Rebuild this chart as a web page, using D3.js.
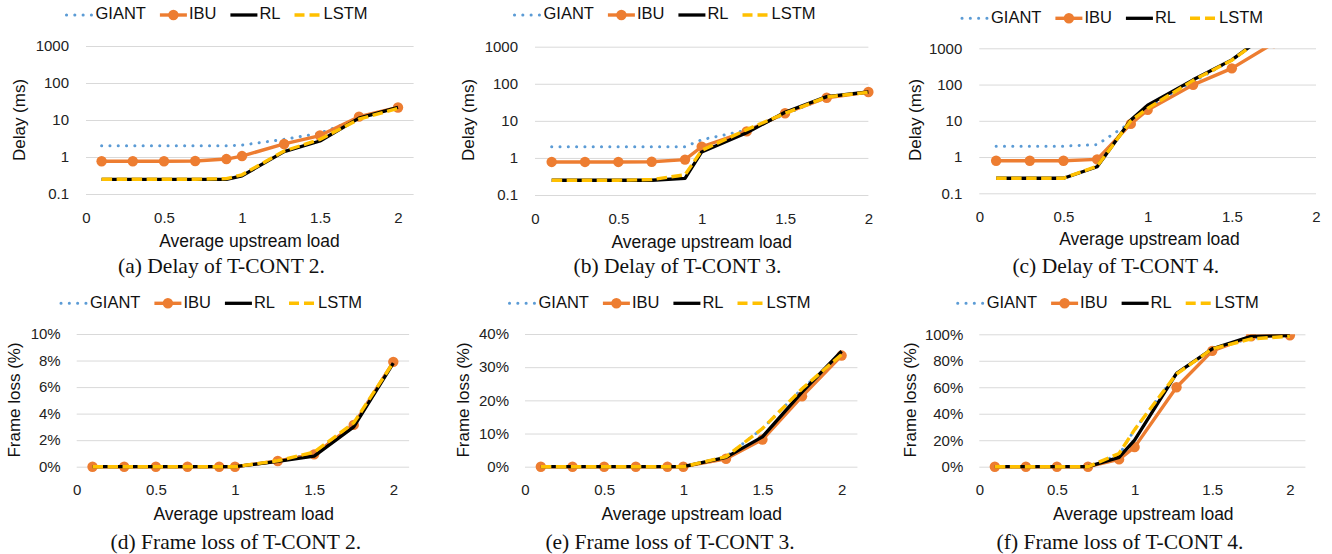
<!DOCTYPE html>
<html>
<head>
<meta charset="utf-8">
<script src="https://cdn.jsdelivr.net/npm/d3@7"></script>
<style>
  body { margin: 0; background: #fff; }
  svg { display: block; }
  .tick text { font-family: "Liberation Sans", Arial, sans-serif; font-size: 15px; fill: #222; }
</style>
</head>
<body>
<svg id="chart" width="1332" height="554"></svg>
<script>
// load points on the x axis (same for every panel)
var loads = [0.1, 0.3, 0.5, 0.7, 0.9, 1.0, 1.27, 1.5, 1.75, 2.0];
var seriesNames = ["GIANT", "IBU", "RL", "LSTM"];
var xTicks = [0, 0.5, 1, 1.5, 2];
var delayTicks = [0.1, 1, 10, 100, 1000];
var loss2Ticks = [0, 2, 4, 6, 8, 10];
var loss3Ticks = [0, 10, 20, 30, 40];
var loss4Ticks = [0, 20, 40, 60, 80, 100];

// delay (ms), T-CONT 2
var delay2Giant = [2, 2, 2, 2, 2, 2.1, 3.0, 4.4, 11, 22];
var delay2Ibu   = [0.77, 0.77, 0.77, 0.78, 0.88, 1.06, 2.25, 3.8, 12.3, 21.8];
var delay2Rl    = [0.25, 0.25, 0.25, 0.25, 0.25, 0.31, 1.4, 2.7, 11.2, 22];
var delay2Lstm  = [0.25, 0.25, 0.25, 0.25, 0.26, 0.33, 1.45, 3.0, 10.5, 20.5];

// delay (ms), T-CONT 3
var delay3Giant = [2, 2, 2, 2, 2, 3.1, 5.6, 15, 43, 60];
var delay3Ibu   = [0.78, 0.78, 0.78, 0.79, 0.9, 2.0, 5.2, 16, 42, 60];
var delay3Rl    = [0.25, 0.25, 0.25, 0.25, 0.28, 1.45, 4.8, 17, 45, 60];
var delay3Lstm  = [0.25, 0.25, 0.25, 0.26, 0.35, 1.6, 5.8, 16, 44, 59];

// delay (ms), T-CONT 4
var delay4Giant = [2, 2, 2, 2.2, 9, 24, 120, 470, 3400, 8000];
var delay4Ibu   = [0.79, 0.79, 0.79, 0.86, 8.2, 20, 98, 280, 1400, 4000];
var delay4Rl    = [0.26, 0.26, 0.26, 0.54, 10.5, 27, 135, 480, 3400, 8000];
var delay4Lstm  = [0.26, 0.26, 0.26, 0.56, 10, 22, 130, 470, 3300, 8000];

// frame loss (%), T-CONT 2
var loss2Giant = [0, 0, 0, 0, 0, 0, 0.42, 1.0, 3.2, 7.9];
var loss2Ibu   = [0, 0, 0, 0, 0, 0, 0.43, 0.93, 3.15, 7.9];
var loss2Rl    = [0, 0, 0, 0, 0, 0, 0.4, 0.8, 3.0, 7.8];
var loss2Lstm  = [0, 0, 0, 0, 0, 0, 0.45, 1.1, 3.3, 7.85];

// frame loss (%), T-CONT 3
var loss3Giant = [0, 0, 0, 0, 0, 0, 3.0, 11.5, 23.5, 33.8];
var loss3Ibu   = [0, 0, 0, 0, 0, 0, 2.4, 8.2, 21.2, 33.5];
var loss3Rl    = [0, 0, 0, 0, 0, 0, 2.8, 9.0, 22.5, 34.8];
var loss3Lstm  = [0, 0, 0, 0, 0, 0, 3.0, 11.5, 23.5, 33.8];

// frame loss (%), T-CONT 4
var loss4Giant = [0, 0, 0, 0, 9, 28, 70, 89, 97, 99];
var loss4Ibu   = [0, 0, 0, 0, 5.5, 14.8, 60, 87.5, 98.5, 99.2];
var loss4Rl    = [0, 0, 0, 0, 7, 20, 70.5, 89, 98.5, 99];
var loss4Lstm  = [0, 0, 0, 0, 10, 28, 70, 89, 96.5, 98.5];

var colors = { GIANT: "#5B9BD5", IBU: "#ED7D31", RL: "#000000", LSTM: "#FFC000" };

// panel placement
var panels = [
  { id: "a", caption: "(a) Delay of T-CONT 2.", ytitle: "Delay (ms)", log: true, ticks: delayTicks,
    data: [delay2Giant, delay2Ibu, delay2Rl, delay2Lstm],
    x0: 86, unit: 156, xMax: 2.1, yTop: 46, yBot: 194, legX: 216.5, legY: 15,
    xtX: 249.5, xtY: 242, ytX: 21, ytY: 120, capX: 221.5, capY: 273 },
  { id: "b", caption: "(b) Delay of T-CONT 3.", ytitle: "Delay (ms)", log: true, ticks: delayTicks,
    data: [delay3Giant, delay3Ibu, delay3Rl, delay3Lstm],
    x0: 535, unit: 166.7, xMax: 2, yTop: 46.7, yBot: 195, legX: 664.5, legY: 15,
    xtX: 701.7, xtY: 243, ytX: 469.3, ytY: 120, capX: 677.5, capY: 273 },
  { id: "c", caption: "(c) Delay of T-CONT 4.", ytitle: "Delay (ms)", log: true, ticks: delayTicks,
    data: [delay4Giant, delay4Ibu, delay4Rl, delay4Lstm],
    x0: 979.3, unit: 168.35, xMax: 2, yTop: 48.3, yBot: 193.3, legX: 1112, legY: 18.3,
    xtX: 1149.5, xtY: 240, ytX: 916.7, ytY: 120, capX: 1115.8, capY: 273 },
  { id: "d", caption: "(d) Frame loss of T-CONT 2.", ytitle: "Frame loss (%)", log: false, ticks: loss2Ticks,
    data: [loss2Giant, loss2Ibu, loss2Rl, loss2Lstm],
    x0: 76.7, unit: 158.3, xMax: 2.1, yTop: 334, yBot: 466.7, legX: 211, legY: 303.3,
    xtX: 243.7, xtY: 515, ytX: 15.7, ytY: 400, capX: 235.8, capY: 549 },
  { id: "e", caption: "(e) Frame loss of T-CONT 3.", ytitle: "Frame loss (%)", log: false, ticks: loss3Ticks,
    data: [loss3Giant, loss3Ibu, loss3Rl, loss3Lstm],
    x0: 525, unit: 158.3, xMax: 2.1, yTop: 334, yBot: 466.7, legX: 659.5, legY: 303.3,
    xtX: 691.7, xtY: 515, ytX: 465, ytY: 400, capX: 670, capY: 549 },
  { id: "f", caption: "(f) Frame loss of T-CONT 4.", ytitle: "Frame loss (%)", log: false, ticks: loss4Ticks,
    data: [loss4Giant, loss4Ibu, loss4Rl, loss4Lstm],
    x0: 979.3, unit: 155.3, xMax: 2.1, yTop: 334.3, yBot: 466.7, legX: 1107.7, legY: 303.3,
    xtX: 1143.3, xtY: 515, ytX: 911.7, ytY: 400, capX: 1120, capY: 549 }
];

var svg = d3.select("#chart");
var sans = "'Liberation Sans', Arial, sans-serif";

// line styling per series
function styleLine(sel, name) {
  sel.attr("fill", "none").attr("stroke", colors[name]);
  if (name == "GIANT") {
    sel.attr("stroke-width", 3).attr("stroke-linecap", "round").attr("stroke-dasharray", "0.1,8.2");
  } else if (name == "IBU") {
    sel.attr("stroke-width", 3.4).attr("stroke-linejoin", "round");
  } else if (name == "RL") {
    sel.attr("stroke-width", 3.3).attr("stroke-linejoin", "round");
  } else {
    sel.attr("stroke-width", 3.4).attr("stroke-dasharray", "10.5,4.5");
  }
  return sel;
}

panels.forEach(function(p) {
  var g = svg.append("g").attr("class", "panel-" + p.id);
  var x = d3.scaleLinear().domain([0, p.xMax]).range([p.x0, p.x0 + p.xMax * p.unit]);
  var y;
  if (p.log) {
    y = d3.scaleLog().domain([0.1, 1000]).range([p.yBot, p.yTop]);
  } else {
    y = d3.scaleLinear().domain([0, p.ticks[p.ticks.length - 1]]).range([p.yBot, p.yTop]);
  }
  var w = x.range()[1] - x.range()[0];

  // gridlines
  g.append("g")
    .attr("transform", "translate(" + p.x0 + ",0)")
    .call(d3.axisLeft(y).tickValues(p.ticks).tickSize(-w).tickFormat(""))
    .call(function(a) { a.select(".domain").remove(); })
    .selectAll("line").attr("stroke", "#d9d9d9").attr("stroke-width", 1);

  // y tick labels
  var yfmt = p.log ? function(d) { return d >= 1 ? d3.format("d")(d) : String(d); } : function(d) { return d + "%"; };
  g.append("g")
    .attr("transform", "translate(" + p.x0 + ",0)")
    .call(d3.axisLeft(y).tickValues(p.ticks).tickSize(0).tickPadding(p.log ? 17 : 16).tickFormat(yfmt))
    .call(function(a) { a.select(".domain").remove(); });

  // x tick labels
  g.append("g")
    .attr("transform", "translate(0," + p.yBot + ")")
    .call(d3.axisBottom(x).tickValues(xTicks).tickSize(0).tickPadding(18).tickFormat(d3.format("")))
    .call(function(a) { a.select(".domain").remove(); });

  // clip the top (values above 1000 run off the plot)
  g.append("clipPath").attr("id", "clip-" + p.id)
    .append("rect")
    .attr("x", p.x0 - 20).attr("y", p.yTop)
    .attr("width", w + 40).attr("height", p.yBot - p.yTop + 20);

  var plot = g.append("g").attr("clip-path", "url(#clip-" + p.id + ")");
  var line = d3.line()
    .x(function(d, i) { return x(loads[i]); })
    .y(function(d) { return y(d); });

  seriesNames.forEach(function(name, k) {
    var vals = p.data[k];
    styleLine(plot.append("path").attr("d", line(vals)), name);
    if (name == "IBU") {
      plot.selectAll(".m").data(vals).enter().append("circle")
        .attr("cx", function(d, i) { return x(loads[i]); })
        .attr("cy", function(d) { return y(d); })
        .attr("r", 5.2)
        .attr("fill", colors.IBU);
    }
  });

  // axis titles
  g.append("text")
    .attr("x", p.xtX).attr("y", p.xtY)
    .attr("text-anchor", "middle").attr("dominant-baseline", "middle")
    .style("font-family", sans).style("font-size", "17.5px").attr("fill", "#111")
    .text("Average upstream load");
  g.append("text")
    .attr("transform", "translate(" + p.ytX + "," + p.ytY + ") rotate(-90)")
    .attr("text-anchor", "middle").attr("dominant-baseline", "middle")
    .style("font-family", sans).style("font-size", "17px").attr("fill", "#111")
    .text(p.ytitle);

  // caption
  g.append("text")
    .attr("x", p.capX).attr("y", p.capY)
    .attr("text-anchor", "middle")
    .style("font-family", "'Liberation Serif', 'Times New Roman', serif").style("font-size", "21.5px").attr("fill", "#111")
    .text(p.caption);

  // legend
  var leg = g.append("g");
  var cx = 0;
  seriesNames.forEach(function(name, k) {
    var item = leg.append("g").attr("transform", "translate(" + cx + ",0)");
    styleLine(item.append("line").attr("x1", 1).attr("x2", 28).attr("y1", 0).attr("y2", 0), name);
    if (name == "LSTM") item.select("line").attr("stroke-dasharray", "10,5");
    if (name == "IBU") item.append("circle").attr("cx", 14.5).attr("cy", 0).attr("r", 5.2).attr("fill", colors.IBU);
    var t = item.append("text")
      .attr("x", 30).attr("y", 0).attr("dominant-baseline", "middle")
      .style("font-family", sans).style("font-size", "16.5px").attr("fill", "#111")
      .text(name);
    cx += 30 + t.node().getComputedTextLength() + 13;
  });
  var legW = cx - 13;
  leg.attr("transform", "translate(" + (p.legX - legW / 2) + "," + p.legY + ")");
});
</script>
</body>
</html>
